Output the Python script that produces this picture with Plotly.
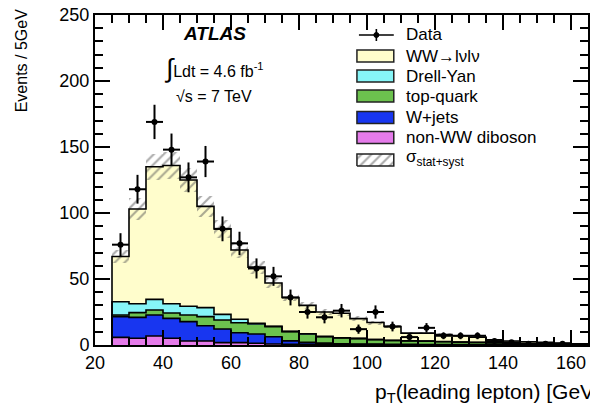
import numpy as np
import plotly.graph_objects as go

# ---------------- data ----------------
bin_low = list(range(25, 165, 5))           # 28 bins of 5 GeV, 25..165
bin_width = 5

data_vals = [76, 118, 169, 148, 127, 139, 88, 77, 58, 52, 36, 25, 21, 26,
             12, 25, 14, 6, 13, 7, 7, 7, 3, 2, 1, 1, 1, None]
data_errs = [8.7, 10.9, 13.0, 12.2, 11.3, 11.8, 9.4, 8.8, 7.6, 7.2, 6.0, 5.0, 4.6, 5.1,
             3.5, 5.0, 3.7, 2.4, 3.6, 2.6, 2.6, 2.6, 1.7, 1.4, 1.0, 1.0, 1.0, 0]

diboson = [5.8, 5.1, 6.8, 5.1, 3.0, 3.0, 1.8, 1.8, 1.3, 0.8, 0.6, 0.5, 0.4, 0.4,
           0.3, 0.3, 0.2, 0.2, 0.2, 0.1, 0.1, 0.1, 0.1, 0.1, 0.05, 0.05, 0.05, 0.05]
wjets = [15.7, 15.8, 15.9, 15.1, 14.7, 11.6, 10.3, 7.5, 7.0, 5.5, 2.5, 1.5, 1.0, 0.6,
         0.5, 0.4, 0.3, 0.3, 0.2, 0.2, 0.2, 0.1, 0.1, 0.1, 0.05, 0.05, 0.05, 0.05]
topq = [1.2, 3.6, 3.8, 4.0, 5.0, 6.9, 6.8, 7.6, 7.6, 7.6, 7.0, 6.3, 4.9, 4.3,
        4.0, 3.4, 2.9, 2.6, 2.5, 2.2, 1.9, 1.7, 1.4, 1.1, 0.9, 0.7, 0.6, 0.4]
drellyan = [10.1, 6.8, 8.1, 7.1, 6.6, 6.8, 4.3, 2.6, 0.6, 0.3, 0.2, 0.2, 0.2, 0.2,
            0.2, 0.1, 0.1, 0.1, 0.1, 0.1, 0.1, 0.1, 0.1, 0.1, 0.1, 0.1, 0.1, 0.1]
ww = [34.2, 71.7, 100.4, 104.7, 95.7, 76.7, 64.8, 52.5, 42.5, 32.8, 25.7, 21.5, 18.5, 18.5,
      15.0, 12.8, 10.5, 5.8, 6.0, 5.4, 4.7, 4.0, 2.3, 1.6, 1.4, 1.1, 0.7, 0.4]
unc = [5, 8, 10, 10, 9, 8, 7, 6, 5, 4, 3, 2.5, 2, 2,
       1.8, 1.5, 1.3, 1, 1, 1, 0.8, 0.8, 0.6, 0.5, 0.4, 0.3, 0.3, 0.2]

components = [  # bottom to top
    ("non-WW diboson", diboson, "#E57BEA"),
    ("W+jets", wjets, "#1836F0"),
    ("top-quark", topq, "#6CC24E"),
    ("Drell-Yan", drellyan, "#86F5F7"),
    ("WW→lνlν", ww, "#FFFDCC"),
]

x_ticks = [20, 40, 60, 80, 100, 120, 140, 160]
y_ticks = [0, 50, 100, 150, 200, 250]

# ---------------- figure ----------------
W, H = 590, 407
L, R, T, B = 95, 0, 15, 62
x0p, x1p, y0p, y1p = L, W - R, T, H - B
xr = [20, 165]
yr = [0, 250]
FONT = "Liberation Sans, Arial, sans-serif"

def px2x(px):
    return xr[0] + (px - x0p) / (x1p - x0p) * (xr[1] - xr[0])

def py2y(py):
    return yr[0] + (y1p - py) / (y1p - y0p) * (yr[1] - yr[0])

def ppx(px):
    return (px - x0p) / (x1p - x0p)

def ppy(py):
    return (y1p - py) / (y1p - y0p)

centers = np.array(bin_low) + bin_width / 2
edges = np.array(bin_low + [bin_low[-1] + bin_width])

fig = go.Figure()

cum = np.zeros(len(bin_low))
tops = []
for name, vals, col in components:
    v = np.array(vals, dtype=float)
    fig.add_trace(go.Bar(x=centers, y=v, base=cum.copy(), width=bin_width,
                         marker=dict(color=col, line=dict(width=0)),
                         showlegend=False, hoverinfo="skip"))
    cum = cum + v
    tops.append(cum.copy())

total = cum
unc_a = np.array(unc, dtype=float)

# step outlines for each stacked layer
for t in tops:
    xs = [edges[0]] + list(edges[:-1]) + [edges[-1]]
    ys = [0] + list(t) + [0]
    fig.add_trace(go.Scatter(x=xs, y=ys, mode="lines", line=dict(color="black", width=1.6, shape="hv"),
                             showlegend=False, hoverinfo="skip"))

# hatched uncertainty band
fig.add_trace(go.Bar(x=centers, y=2 * unc_a, base=total - unc_a, width=bin_width,
                     marker=dict(color="rgba(0,0,0,0)", line=dict(width=0),
                                 pattern=dict(shape="/", fgcolor="#555555", bgcolor="rgba(0,0,0,0)",
                                              size=7, solidity=0.3, fillmode="overlay")),
                     showlegend=False, hoverinfo="skip"))

# data
dv = [np.nan if d is None else d for d in data_vals]
fig.add_trace(go.Scatter(x=centers, y=dv, mode="markers",
                         marker=dict(color="black", size=6),
                         error_y=dict(type="data", array=data_errs, color="black", thickness=2, width=0),
                         error_x=dict(type="constant", value=bin_width / 2, color="black", thickness=2, width=0),
                         showlegend=False, hoverinfo="skip"))

# ---------------- manual legend ----------------
bx0, bx1 = 358, 395
tx = 405
rows = [(56, "WW→lνlν", "#FFFDCC"), (76, "Drell-Yan", "#86F5F7"), (96, "top-quark", "#6CC24E"),
        (117.5, "W+jets", "#1836F0"), (137.5, "non-WW diboson", "#E57BEA")]
lfont = dict(family=FONT, size=17, color="black")
shapes = []
annotations = []
for cy, label, col in rows:
    shapes.append(dict(type="rect", xref="paper", yref="paper", x0=ppx(bx0), x1=ppx(bx1),
                       y0=ppy(cy + 6), y1=ppy(cy - 6), fillcolor=col,
                       line=dict(color="#222", width=1.5)))
    annotations.append(dict(x=ppx(tx), y=ppy(cy), xref="paper", yref="paper", text=label, showarrow=False,
                            xanchor="left", yanchor="middle", font=lfont))

# data legend entry
dcy = 35
shapes.append(dict(type="line", xref="paper", yref="paper", x0=ppx(360), x1=ppx(395),
                   y0=ppy(dcy), y1=ppy(dcy), line=dict(color="black", width=1.6)))
shapes.append(dict(type="line", xref="paper", yref="paper", x0=ppx(377.5), x1=ppx(377.5),
                   y0=ppy(dcy - 6), y1=ppy(dcy + 6), line=dict(color="black", width=1.6)))
shapes.append(dict(type="circle", xref="paper", yref="paper", x0=ppx(375), x1=ppx(380),
                   y0=ppy(dcy + 2.5), y1=ppy(dcy - 2.5), fillcolor="black", line=dict(color="black", width=1)))
annotations.append(dict(x=ppx(tx), y=ppy(dcy), xref="paper", yref="paper", text="Data", showarrow=False,
                        xanchor="left", yanchor="middle", font=lfont))

# sigma legend entry (hatched box)
scy = 160
hx = [px2x(bx0), px2x(bx1), px2x(bx1), px2x(bx0), px2x(bx0)]
hy = [py2y(scy + 6), py2y(scy + 6), py2y(scy - 6), py2y(scy - 6), py2y(scy + 6)]
fig.add_trace(go.Scatter(x=hx, y=hy, mode="lines", fill="toself",
                         fillpattern=dict(shape="/", fgcolor="#555555", bgcolor="white", size=7, solidity=0.3),
                         fillcolor="white",
                         line=dict(color="#222", width=1.5), showlegend=False, hoverinfo="skip"))
annotations.append(dict(x=ppx(tx), y=ppy(scy - 2), xref="paper", yref="paper",
                        text="σ<sub>stat+syst</sub>", showarrow=False,
                        xanchor="left", yanchor="middle", font=lfont))

# ATLAS labels
annotations.append(dict(x=ppx(215), y=ppy(33), xref="paper", yref="paper", text="<b><i>ATLAS</i></b>",
                        showarrow=False, xanchor="center", yanchor="middle",
                        font=dict(family=FONT, size=19, color="black")))
annotations.append(dict(x=ppx(214), y=ppy(68), xref="paper", yref="paper",
                        text="<span style='font-size:26px'>∫</span>Ldt = 4.6 fb<sup>-1</sup>",
                        showarrow=False, xanchor="center", yanchor="middle",
                        font=dict(family=FONT, size=16, color="black")))
annotations.append(dict(x=ppx(214), y=ppy(96), xref="paper", yref="paper", text="√s = 7 TeV",
                        showarrow=False, xanchor="center", yanchor="middle",
                        font=dict(family=FONT, size=16, color="black")))

# axis titles
annotations.append(dict(x=ppx(21), y=ppy(61), xref="paper", yref="paper", text="Events / 5GeV",
                        showarrow=False, textangle=-90, xanchor="center", yanchor="middle",
                        font=dict(family=FONT, size=16, color="black")))
annotations.append(dict(x=ppx(604), y=ppy(393), xref="paper", yref="paper",
                        text="p<sub>T</sub>(leading lepton) [GeV]", showarrow=False,
                        xanchor="right", yanchor="middle",
                        font=dict(family=FONT, size=21, color="black")))

fig.update_layout(
    width=W, height=H,
    margin=dict(l=L, r=R, t=T, b=B),
    paper_bgcolor="white", plot_bgcolor="white",
    barmode="overlay", bargap=0,
    showlegend=False,
    shapes=shapes, annotations=annotations,
)
axis_style = dict(showline=True, linecolor="black", linewidth=2, mirror="allticks",
                  ticks="inside", ticklen=15, tickwidth=1.5, tickcolor="black",
                  showgrid=False, zeroline=False, layer="above traces",
                  tickfont=dict(family=FONT, size=18, color="black"))
fig.update_xaxes(range=xr, tickmode="array", tickvals=x_ticks,
                 minor=dict(dtick=5, ticks="inside", ticklen=8, tickwidth=1.5, tickcolor="black"),
                 **axis_style)
fig.update_yaxes(range=yr, tickmode="array", tickvals=y_ticks,
                 minor=dict(dtick=10, ticks="inside", ticklen=8, tickwidth=1.5, tickcolor="black"),
                 **axis_style)

fig.write_html("out.html")
